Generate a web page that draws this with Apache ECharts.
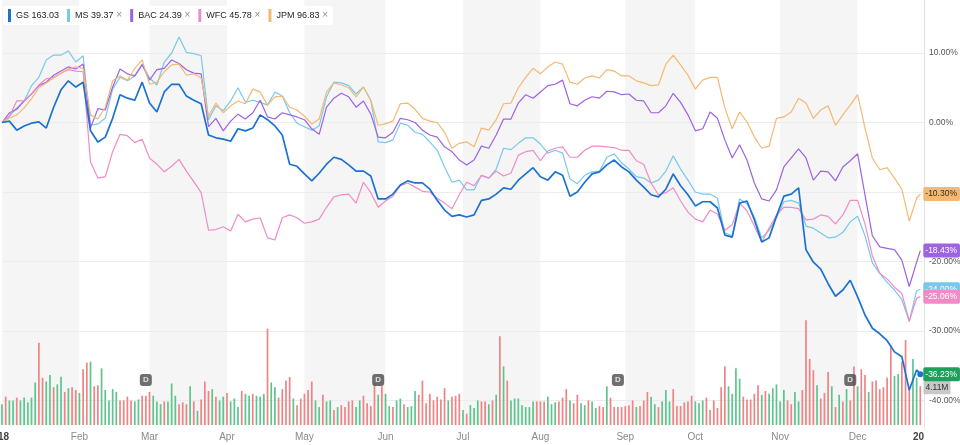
<!DOCTYPE html>
<html><head><meta charset="utf-8">
<script src="https://cdn.jsdelivr.net/npm/echarts@6/dist/echarts.min.js"></script>
<style>html,body{margin:0;padding:0;background:#fff}#c{width:960px;height:445px}</style>
</head><body><div id="c"></div>
<script>
// ---- categories: 2018 NYSE trading days shown on the chart ----
const HOLIDAYS = ['2018-01-01','2018-01-15','2018-02-19','2018-03-30','2018-05-28','2018-07-04','2018-09-03','2018-11-22','2018-12-05','2018-12-25'];
const FIRST_DAY = '2018-01-02';
const LAST_DAY = '2018-12-28';
const AXIS_END = '2019-01-02';
const MONTHS = ['Jan','Feb','Mar','Apr','May','Jun','Jul','Aug','Sep','Oct','Nov','Dec'];

// ---- legend ----
const SYMBOLS = ['GS','MS','BAC','WFC','JPM'];
const PRICES = [163.03, 39.37, 24.39, 45.78, 96.83];

// ---- % change since Jan 2, sampled every 2nd trading day (last = final day) ----
const STEP = 2;
const GS = [0,0.2,-1.1,-0.5,-0.1,0.1,-0.8,2.2,4.7,6.0,
5.1,5.8,-1.2,-2.8,-2.1,0.6,4.0,3.5,3.2,5.8,
2.8,1.5,4.4,5.5,5.5,3.8,3.2,2.7,-1.8,-2.2,
-2.4,-2.7,-0.9,-1.2,-0.8,1.1,0.4,-0.5,-1.8,-6.0,
-6.3,-7.4,-8.4,-7.3,-6.0,-5.0,-5.3,-6.1,-7.0,-7.0,
-7.7,-11.0,-11.0,-10.3,-9.0,-8.4,-8.7,-8.7,-9.6,-11.2,
-12.6,-13.5,-13.3,-13.6,-13.3,-11.2,-11.0,-10.3,-9.4,-9.6,
-8.3,-7.4,-6.5,-7.8,-8.3,-7.1,-7.6,-10.6,-10.0,-8.6,
-7.4,-7.1,-6.1,-5.4,-6.4,-7.1,-8.3,-9.3,-10.4,-10.7,
-9.6,-7.4,-9.1,-10.4,-12.0,-11.4,-11.4,-12.3,-16.2,-16.5,
-11.6,-11.3,-14.0,-17.2,-16.6,-13.5,-10.6,-10.3,-9.4,-18.3,
-20.1,-21.1,-23.2,-25.0,-24.1,-22.7,-25.1,-27.7,-29.6,-30.4,
-31.4,-33.0,-33.7,-38.5,-35.6,-36.23];
const MS = [0,0.9,2.1,3.1,5.3,6.5,9.0,9.7,9.7,10.3,
8.7,9.6,-0.4,-0.2,0.6,4.8,6.5,6.0,6.7,8.4,
6.4,5.4,8.7,10.0,12.3,10.1,9.9,9.6,0.4,2.4,
1.7,3.1,5.0,2.9,3.2,2.9,2.5,4.4,3.8,1.4,
-0.1,-0.6,-1.1,-0.5,3.7,5.8,5.7,5.3,4.1,5.1,
3.2,-2.8,-2.9,-2.5,-0.1,-0.4,-1.4,-1.7,-2.8,-4.0,
-6.4,-8.6,-8.3,-9.7,-9.7,-7.6,-8.0,-6.7,-3.7,-3.9,
-3.0,-2.2,-2.2,-3.1,-4.4,-4.0,-4.4,-8.1,-8.8,-7.6,
-7.1,-7.0,-5.0,-4.5,-5.8,-6.7,-7.8,-8.0,-8.7,-8.3,
-7.0,-4.8,-6.7,-8.3,-10.0,-10.3,-10.3,-10.9,-15.9,-16.3,
-11.0,-11.7,-13.6,-16.6,-15.5,-13.7,-11.4,-11.2,-11.6,-14.9,
-15.2,-15.9,-16.6,-16.5,-15.8,-14.3,-13.5,-16.3,-20.2,-21.7,
-23.0,-24.1,-25.5,-28.6,-24.2,-24.0];
const BAC = [0,1.4,1.9,3.1,4.1,5.3,5.8,6.8,7.4,8.0,
7.7,8.4,-0.8,2.0,1.8,5.1,7.7,7.0,6.7,8.3,
6.1,7.6,7.8,9.0,8.5,7.6,7.1,7.0,-0.6,0.6,
-1.2,0.2,1.2,0.5,1.4,3.2,0.8,0.5,1.4,1.1,
0.8,0.4,-0.9,-1.7,2.2,3.5,4.2,3.7,2.2,3.1,
1.2,-2.1,-2.2,-1.4,0.6,0.4,0.0,-1.1,-1.8,-2.1,
-3.5,-4.2,-5.4,-6.1,-5.4,-3.4,-3.7,-1.8,0.5,0.5,
2.8,4.0,3.5,4.4,5.3,5.5,6.1,2.7,2.4,3.2,
3.7,3.5,4.5,4.4,4.0,4.1,3.2,3.1,1.4,1.4,
2.4,4.2,2.9,1.1,-1.2,-0.9,1.5,0.6,-2.5,-5.1,
-3.2,-5.4,-8.7,-11.0,-11.3,-9.7,-6.4,-5.1,-3.8,-5.1,
-8.3,-7.0,-7.1,-8.4,-6.4,-5.5,-4.5,-10.4,-16.3,-17.9,
-18.1,-18.3,-19.8,-23.6,-20.1,-18.43];
const WFC = [0,0.9,3.1,3.1,4.1,5.4,6.3,6.5,7.1,7.6,
7.4,7.3,-5.7,-8.0,-7.8,-4.2,-1.7,-1.9,-2.9,-2.4,
-5.1,-6.0,-7.1,-6.3,-5.3,-7.0,-8.5,-10.1,-15.5,-15.4,
-15.0,-15.6,-13.2,-14.3,-13.9,-13.7,-16.6,-16.9,-13.7,-13.3,
-13.7,-14.5,-14.3,-13.9,-12.2,-10.7,-10.4,-10.3,-11.6,-8.6,
-10.1,-12.2,-11.3,-10.6,-9.1,-8.7,-9.3,-9.9,-10.0,-10.9,
-11.6,-12.4,-10.4,-8.6,-9.1,-7.6,-8.0,-7.0,-7.7,-7.3,
-4.7,-4.2,-4.0,-5.5,-4.1,-3.7,-3.5,-5.0,-5.0,-4.0,
-3.4,-3.4,-3.5,-3.6,-4.0,-4.0,-5.5,-6.0,-8.7,-10.4,
-10.1,-9.4,-11.3,-12.9,-13.9,-14.3,-12.6,-13.2,-15.5,-14.7,
-11.6,-12.7,-14.9,-17.2,-15.2,-13.3,-12.2,-12.2,-12.4,-14.0,
-13.9,-13.3,-13.5,-14.6,-13.3,-11.2,-11.2,-14.6,-19.2,-21.7,
-22.5,-23.7,-24.6,-28.6,-25.3,-25.06];
const JPM = [0,0.6,1.1,2.1,3.4,5.0,5.7,6.4,7.1,7.7,
8.0,7.8,1.1,0.5,2.2,6.0,6.7,6.1,7.8,9.0,
5.5,5.8,7.3,8.3,8.4,6.8,7.0,6.4,0.9,2.8,
1.4,2.4,3.1,2.7,4.8,4.4,2.5,3.7,3.8,2.2,
1.8,0.9,-0.2,0.5,4.4,5.7,5.4,5.0,3.7,5.1,
3.2,-0.4,-0.2,0.2,2.7,2.8,1.9,0.6,0.2,0.0,
-1.4,-3.7,-3.0,-2.8,-3.5,-0.8,-1.1,0.4,2.7,2.8,
5.0,6.5,7.8,7.0,8.0,8.7,8.4,5.8,5.5,6.4,
6.7,6.4,7.6,7.4,6.7,6.7,6.0,5.7,5.3,5.4,
8.4,9.7,8.3,6.8,4.8,6.1,6.5,6.5,2.1,-0.9,
1.5,0.1,-2.1,-3.7,-3.4,0.6,0.8,1.5,3.5,2.8,
0.6,1.8,2.4,-0.4,1.1,2.5,4.0,-0.8,-5.1,-6.8,
-6.5,-8.0,-9.6,-14.2,-10.9,-10.30];

// ---- GS daily volume (millions) and up/down day (g/r) ----
const VOLUME = [2.2,3.0,2.6,2.6,2.9,2.6,2.9,2.4,2.9,4.5,
8.7,5.0,4.6,5.3,4.0,4.3,5.1,3.5,3.9,4.0,
3.7,3.4,5.9,6.6,6.7,4.1,4.2,6.0,3.7,2.6,
3.8,3.5,2.6,2.6,3.0,2.6,2.5,2.7,3.1,3.1,
3.5,3.1,2.5,2.2,2.5,2.5,4.4,3.1,2.2,2.4,
2.2,4.1,2.5,1.5,2.7,4.6,3.6,3.8,3.0,2.6,
3.0,3.4,2.5,2.8,1.9,3.6,3.3,3.1,3.3,3.1,
3.0,3.3,10.2,4.5,4.0,2.9,3.8,4.7,5.1,2.8,
2.1,2.8,3.3,3.7,4.6,2.6,1.9,3.2,2.5,2.6,
1.6,1.9,2.1,1.9,2.5,2.6,1.9,2.6,3.1,2.3,
2.0,4.4,3.2,4.1,3.3,2.0,1.9,2.6,2.8,2.2,
1.9,2.0,3.6,3.2,4.7,2.3,3.3,2.6,3.0,2.7,
3.9,2.6,3.0,3.1,3.3,1.6,1.2,2.1,1.8,2.6,
2.5,2.5,2.2,2.6,3.2,9.4,6.2,4.7,2.6,2.8,
2.8,2.1,1.9,1.9,2.5,2.5,2.5,2.5,3.0,2.2,
2.4,2.5,2.9,3.8,2.6,2.3,3.2,2.3,2.1,2.6,
2.5,1.8,2.0,1.9,4.1,2.9,1.9,1.9,1.9,2.0,
2.1,2.6,1.9,2.0,2.6,3.5,3.0,2.2,1.9,2.5,
3.7,2.5,3.8,2.0,2.0,2.4,2.5,3.1,2.5,2.3,
2.6,2.9,1.6,2.6,1.8,4.0,6.2,4.1,3.3,6.0,
4.9,3.0,2.7,2.7,3.3,4.2,3.2,3.6,3.3,3.9,
4.3,2.5,3.7,2.6,2.2,3.5,2.5,3.7,11.1,7.0,
5.8,4.2,2.8,3.4,5.6,4.1,1.9,3.2,2.5,3.8,
2.6,6.2,4.1,5.9,5.3,3.5,4.6,4.7,3.8,4.0,
5.0,8.5,5.2,5.4,6.7,9.0,4.0,7.0,5.0,4.11];
const VOLUME_DIR =
 'grggrggggg'+'rrggrggrgr'+'rgrrgrrggg'+'ggrrrrggrr'+'rgggrgggrr'+'rgrgrrrgrg'+'grgggrggrg'+
 'ggrggrrrrg'+'rrrrrggrgg'+'rgrrrrggrr'+'rrgrggrggr'+'gggrrrrrrr'+'rgrrrgrggg'+
 'rrgrgrgrgg'+'gggggrrrgg'+'grrrgrrggr'+'ggrrgrrrrr'+'rrgrrrggrg'+'ggrrrrrrgg'+
 'grrrrrrggg'+'grrrrrgrgg'+'gggrrggrrr'+'rgrrrgrgrg'+'rrgrrgrrrr'+'rrggrrrggr';

// ---- dividend (ex-date) markers ----
const DIVIDEND_DAYS = ['2018-02-28','2018-05-30','2018-08-30','2018-11-29'];

// ---- price axis ticks ----
const Y_MIN = -50, Y_MAX = 20, Y_STEP = 10;

// ===== build =====
const dates = [];
(function () {
  const d = new Date(FIRST_DAY + 'T00:00:00Z');
  const end = new Date(LAST_DAY + 'T00:00:00Z').getTime();
  while (d.getTime() <= end) {
    const s = d.toISOString().slice(0, 10);
    const w = d.getUTCDay();
    if (w !== 0 && w !== 6 && HOLIDAYS.indexOf(s) < 0) dates.push(s);
    d.setUTCDate(d.getUTCDate() + 1);
  }
})();
const categories = dates.concat([AXIS_END]);
const isMonthStart = (i) => i === 0 || categories[i].slice(0, 7) !== categories[i - 1].slice(0, 7);
const monthLabel = (v, idx) => {
  const m = +v.slice(5, 7);
  if (m !== 1) return MONTHS[m - 1];
  return (idx === 0 ? '{y0|' : '{y|') + v.slice(0, 4) + '}';
};
const lastIdx = dates.length - 1;
const lineData = (vals) => vals.map((v, k) => [Math.min(k * STEP, lastIdx), v]);

const COLORS = { GS: '#1b72d0', MS: '#78c8ec', BAC: '#9d63e2', WFC: '#f08cc5', JPM: '#f5b872' };
const BADGE = {
  GS: { bg: '#1f9f5c', fg: '#fff' }, MS: { bg: '#78c8ec', fg: '#fff' },
  BAC: { bg: '#9d63e2', fg: '#fff' }, WFC: { bg: '#f08cc5', fg: '#fff' }, JPM: { bg: '#f5b872', fg: '#3b2a17' }
};
const VALUES = { GS: GS, MS: MS, BAC: BAC, WFC: WFC, JPM: JPM };
const RED = '#ef8384', GREEN = '#5cc48d';

const drawOrder = ['MS', 'BAC', 'WFC', 'JPM', 'GS'];
const lineSeries = drawOrder.map((name) => {
  const s = {
    name: name, type: 'line', xAxisIndex: 0, yAxisIndex: 0,
    data: lineData(VALUES[name]),
    showSymbol: false, symbol: 'none',
    lineStyle: { width: name === 'GS' ? 1.7 : 1.2, color: COLORS[name] },
    itemStyle: { color: COLORS[name] },
    z: name === 'GS' ? 4 : 3,
    emphasis: { disabled: true },
    endLabel: {
      show: true, distance: 3,
      formatter: (p) => p.value[1].toFixed(2) + '%',
      backgroundColor: BADGE[name].bg, color: BADGE[name].fg,
      fontSize: 8.5, padding: [3, 3, 2, 2], borderRadius: 2
    }
  };
  if (name === 'GS') {
    s.markPoint = {
      symbol: 'circle', symbolSize: 6, silent: true,
      itemStyle: { color: COLORS.GS },
      label: { show: false },
      data: [{ coord: [lastIdx, GS[GS.length - 1]] }]
    };
  }
  return s;
});

const volData = VOLUME.map((v, i) => {
  const item = { value: v, itemStyle: { color: VOLUME_DIR[i] === 'r' ? RED : GREEN } };
  if (i === VOLUME.length - 1) {
    item.label = {
      show: true, position: [4, -6],
      formatter: (p) => p.value.toFixed(2) + 'M',
      backgroundColor: '#c8c8c8', color: '#333', fontSize: 8.5, padding: [3, 2, 2, 2], borderRadius: 1
    };
  }
  return item;
});

const DIV_LEVEL = 4.76;
const option = {
  animation: false,
  textStyle: { fontFamily: '"Helvetica Neue", Helvetica, Arial, "Liberation Sans", sans-serif' },
  legend: {
    data: SYMBOLS, left: 3, top: 6, icon: 'rect', itemWidth: 3, itemHeight: 13, itemGap: 8,
    backgroundColor: '#fff', padding: [3, 5], borderRadius: 2,
    formatter: (name) => {
      const i = SYMBOLS.indexOf(name);
      return '{n|' + name + ' ' + PRICES[i].toFixed(2) + '}' + (i > 0 ? '{x| ×}' : '');
    },
    textStyle: {
      rich: {
        n: { fontSize: 9, color: '#262626' },
        x: { fontSize: 10, color: '#8c8c8c' }
      }
    }
  },
  grid: [
    { left: 2, right: 36, top: -16.5, bottom: -25, outerBoundsMode: 'none', containLabel: false },
    { left: 2, right: 36, top: 0, bottom: 20, outerBoundsMode: 'none', containLabel: false }
  ],
  xAxis: [
    { type: 'category', gridIndex: 0, data: categories, boundaryGap: false, show: false },
    {
      type: 'category', gridIndex: 1, data: categories, boundaryGap: false, z: 0,
      axisLine: { show: false }, axisTick: { show: false },
      axisLabel: {
        interval: (i) => isMonthStart(i), formatter: monthLabel,
        fontSize: 10, color: '#8a8a8a', margin: 7,
        rich: {
          y: { fontSize: 10, fontWeight: 'bold', color: '#444' },
          y0: { fontSize: 10, fontWeight: 'bold', color: '#444', padding: [0, 8, 0, 0] }
        }
      },
      splitLine: { show: false },
      splitArea: { show: true, interval: (i) => isMonthStart(i), areaStyle: { color: ['#f5f5f5', '#ffffff'] } }
    }
  ],
  yAxis: [
    {
      type: 'value', gridIndex: 0, position: 'right', min: Y_MIN, max: Y_MAX, interval: Y_STEP, z: 1,
      axisLine: { show: true, lineStyle: { color: '#e2e2e2' } },
      axisTick: { show: false },
      splitLine: { lineStyle: { color: '#ececec' } },
      axisLabel: { formatter: (v) => v.toFixed(2) + '%', fontSize: 8.5, color: '#555', margin: 5 }
    },
    { type: 'value', gridIndex: 1, min: 0, max: 45, show: false }
  ],
  graphic: [
    { type: 'rect', left: 924, top: 428, shape: { width: 40, height: 17 }, style: { fill: '#fff' }, z: 100 }
  ],
  series: [
    {
      name: 'Volume', type: 'bar', xAxisIndex: 1, yAxisIndex: 1, data: volData,
      barWidth: 1.7, z: 2, emphasis: { disabled: true }
    },
    {
      name: 'Dividend', type: 'scatter', xAxisIndex: 1, yAxisIndex: 1,
      data: DIVIDEND_DAYS.map((d) => [dates.indexOf(d), DIV_LEVEL]),
      symbol: 'roundRect', symbolSize: 12, itemStyle: { color: '#4b4b4b' }, z: 5,
      label: { show: true, position: 'inside', formatter: 'D', color: '#fff', fontSize: 8, fontWeight: 'bold' }
    }
  ].concat(lineSeries)
};
const chart = echarts.init(document.getElementById('c'));
chart.setOption(option);
</script>
</body></html>
